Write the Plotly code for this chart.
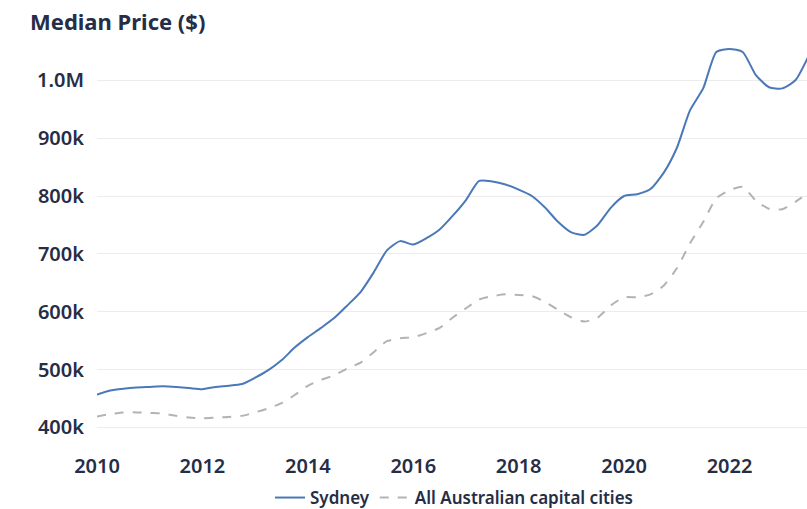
import plotly.graph_objects as go

# quarterly median dwelling prices, thousands of dollars
quarters = [2010 + i * 0.25 for i in range(55)]

sydney = [457, 464, 467, 469, 470, 471, 470, 468, 466, 470, 472, 475,
          486, 499, 516, 538, 556, 572, 589, 611, 634, 668, 706, 722,
          716, 727, 742, 766, 793, 826, 825, 820, 811, 800, 780, 755,
          737, 733, 750, 780, 800, 803, 812, 840, 883, 948, 986, 1049,
          1054, 1049, 1009, 988, 986, 1000, 1042]

capitals = [419, 423, 426, 426, 425, 424, 420, 417, 416, 417, 418, 420,
            426, 433, 442, 456, 472, 482, 490, 502, 512, 530, 549, 554,
            556, 563, 572, 590, 606, 621, 627, 630, 629, 627, 617, 603,
            590, 583, 590, 611, 625, 625, 630, 645, 675, 718, 755, 796,
            810, 816, 792, 778, 777, 790, 806]

y_ticks = [400, 500, 600, 700, 800, 900, 1000]
y_labels = ["400k", "500k", "600k", "700k", "800k", "900k", "1.0M"]
x_ticks = [2010, 2012, 2014, 2016, 2018, 2020, 2022]

ink = "#252d47"
font = "Noto Sans"

W, H = 807, 509

fig = go.Figure()
fig.add_trace(go.Scatter(x=quarters, y=sydney, name="Sydney", mode="lines",
                         line=dict(color="#4a78b8", width=2, shape="spline", smoothing=0.6)))
fig.add_trace(go.Scatter(x=quarters, y=capitals, name="All Australian capital cities",
                         mode="lines",
                         line=dict(color="#b3b3b3", width=2, dash="dash",
                                   shape="spline", smoothing=0.6)))

fig.update_layout(
    width=W, height=H,
    margin=dict(l=97, r=0, t=34, b=70),
    paper_bgcolor="white", plot_bgcolor="white",
    font=dict(family=font, color=ink, size=15),
    title=dict(text="<b>Median Price ($)</b>", x=30 / W, xref="container",
               xanchor="left", y=1 - 22 / H, yref="container", yanchor="middle",
               font=dict(size=22, color=ink, family=font)),
    legend=dict(orientation="h", xref="container", x=454 / W, xanchor="center",
                yref="container", y=1 - 498 / H, yanchor="middle",
                font=dict(size=17, color=ink, weight=600), itemwidth=30),
    showlegend=True,
)
fig.update_xaxes(range=[2010, 2023.47], tickvals=x_ticks, showgrid=False,
                 zeroline=False, showline=False, ticklabelstandoff=13,
                 automargin=False, tickfont=dict(size=20, weight=600))
fig.update_yaxes(range=[380, 1080], tickvals=y_ticks, ticktext=y_labels,
                 showgrid=True, gridcolor="#ececec", gridwidth=1, zeroline=False,
                 showline=False, ticklabelstandoff=12, automargin=False,
                 tickfont=dict(size=20, weight=600))

# drop the default page margin so the figure sits flush in the window
fig.write_html("out.html", config={"displayModeBar": False},
               post_script="document.body.style.margin='0';"
                           "document.body.style.overflow='hidden';")
